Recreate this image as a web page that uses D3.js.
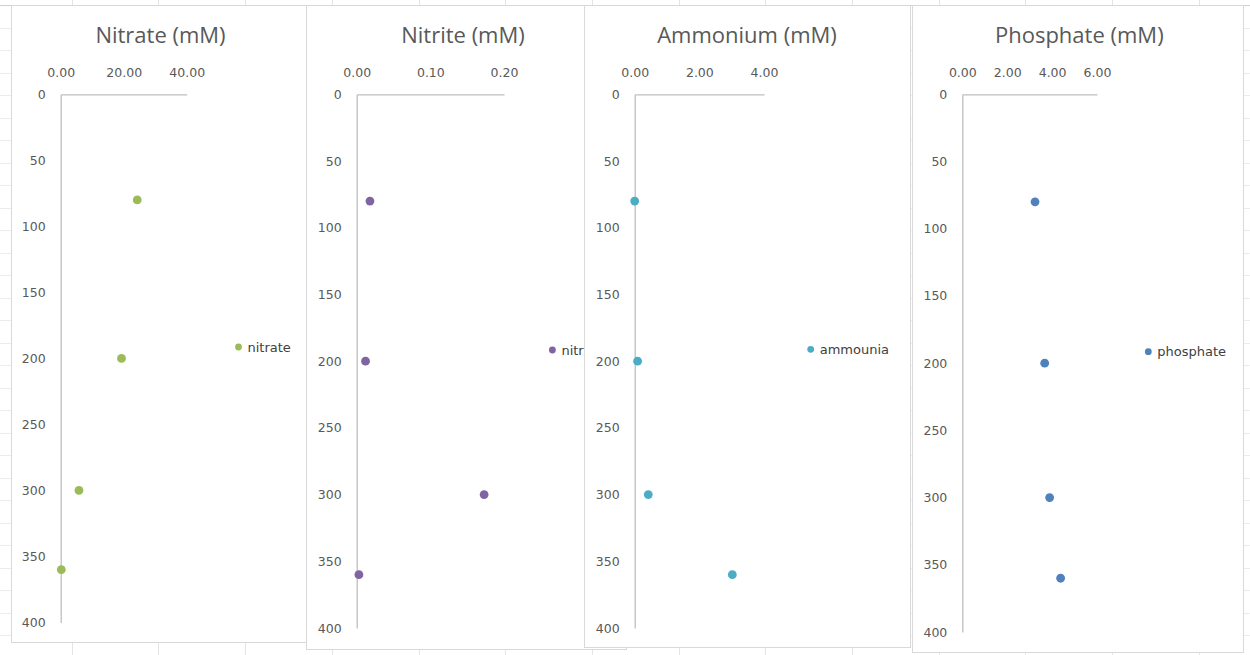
<!DOCTYPE html>
<html>
<head>
<meta charset="utf-8">
<script src="https://cdn.jsdelivr.net/npm/d3@7"></script>
<style>
  html, body { margin: 0; padding: 0; background: #ffffff; }
  svg { display: block; }
</style>
</head>
<body>
<svg id="chart" width="1250" height="655"></svg>
<script>
// ---------------- data ----------------
const depths    = [80, 200, 300, 360];
const nitrate   = [24.3, 19.3, 5.8, 0.2];
const nitrite   = [0.018, 0.012, 0.173, 0.003];
const ammonium  = [0.0, 0.09, 0.42, 3.02];
const phosphate = [3.24, 3.67, 3.89, 4.38];

const titles       = ["Nitrate (mM)", "Nitrite (mM)", "Ammonium (mM)", "Phosphate (mM)"];
const legendLabels = ["nitrate", "nitrite", "ammounia", "phosphate"];
const xTicks = [[0, 20, 40], [0, 0.1, 0.2], [0, 2, 4], [0, 2, 4, 6]];
const xMax   = [40, 0.2, 4, 6];
const yTicks = [0, 50, 100, 150, 200, 250, 300, 350, 400];
const series = [nitrate, nitrite, ammonium, phosphate];

// ---------------- layout / style ----------------
const colors = ["#9bbb59", "#8064a2", "#4bacc6", "#4f81bd"];
const layout = [
  {box: [11, 5, 295, 637],  xr: [60.7, 186.7],  yr: [94.3, 622.5], tx: 160.5, lg: [238.5, 347]},
  {box: [306, 5, 320, 644], xr: [356.7, 504],   yr: [94.3, 628],   tx: 463,   lg: [552.4, 350]},
  {box: [584, 5, 326, 642], xr: [634.7, 764],   yr: [94.3, 628],   tx: 747,   lg: [810.7, 349.3]},
  {box: [912, 5, 331, 647], xr: [962.3, 1097],  yr: [94.3, 632],   tx: 1079.3, lg: [1148.3, 351.7]}
];

const svg = d3.select("#chart");

// spreadsheet grid background
const grid = svg.append("g").attr("stroke", "#e4e4e4").attr("stroke-width", 1);
d3.range(-1, 15).forEach(k => {
  const x = Math.round(71.7 + k * 86.7) + 0.5;
  grid.append("line").attr("x1", x).attr("x2", x).attr("y1", 0).attr("y2", 655);
});
d3.range(0, 30).forEach(k => {
  const y = Math.round(5 + k * 22.5) + 0.5;
  grid.append("line").attr("x1", 0).attr("x2", 1250).attr("y1", y).attr("y2", y)
    .attr("stroke", k === 0 ? "#cfcfcf" : "#ececec");
});

const fontTick = "'DejaVu Sans', sans-serif";
const fontTitle = "'Open Sans', sans-serif";

layout.forEach((L, i) => {
  const g = svg.append("g");
  const [bx, by, bw, bh] = L.box;
  g.append("rect")
    .attr("x", bx + 0.5).attr("y", by + 0.5)
    .attr("width", bw).attr("height", bh)
    .attr("fill", "#ffffff").attr("stroke", "#d9d9d9").attr("stroke-width", 1);

  const x = d3.scaleLinear().domain([0, xMax[i]]).range(L.xr);
  const y = d3.scaleLinear().domain([0, 400]).range(L.yr);

  // title
  g.append("text")
    .attr("x", L.tx).attr("y", 42.5)
    .attr("text-anchor", "middle")
    .attr("font-family", fontTitle).attr("font-size", 22)
    .attr("fill", "#595959")
    .text(titles[i]);

  // x axis (top)
  const xa = g.append("g").attr("transform", `translate(0,${L.yr[0]})`)
    .call(d3.axisTop(x).tickValues(xTicks[i]).tickFormat(d3.format(".2f"))
      .tickSize(0).tickPadding(17));
  // y axis (left)
  const ya = g.append("g").attr("transform", `translate(${L.xr[0]},0)`)
    .call(d3.axisLeft(y).tickValues(yTicks).tickFormat(d3.format("d"))
      .tickSize(0).tickPadding(15));

  [xa, ya].forEach(a => {
    a.select(".domain").attr("stroke", "#bfbfbf").attr("stroke-width", 1.3);
    a.selectAll("text").attr("fill", "#595959")
      .attr("font-family", fontTick).attr("font-size", 12.5);
  });

  // points
  g.append("g").selectAll("circle")
    .data(depths.map((d, j) => ({d, v: series[i][j]})))
    .join("circle")
    .attr("cx", p => x(p.v)).attr("cy", p => y(p.d))
    .attr("r", 4.4).attr("fill", colors[i]);

  // legend
  const lg = g.append("g").attr("transform", `translate(${L.lg[0]},${L.lg[1]})`);
  lg.append("circle").attr("r", 3.4).attr("fill", colors[i]);
  lg.append("text").attr("x", 9).attr("dy", "0.35em")
    .attr("font-family", fontTick).attr("font-size", 13)
    .attr("fill", "#404040").text(legendLabels[i]);
});
</script>
</body>
</html>
